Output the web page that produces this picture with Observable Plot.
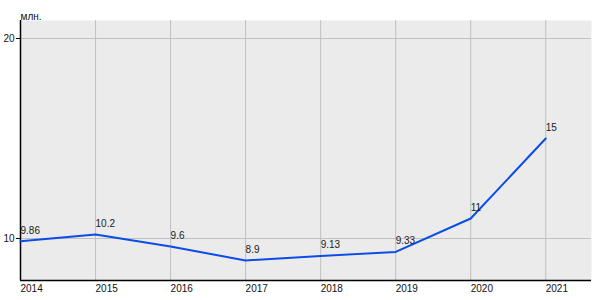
<!DOCTYPE html>
<html>
<head>
<meta charset="utf-8">
<script src="https://cdn.jsdelivr.net/npm/d3@7"></script>
<script src="https://cdn.jsdelivr.net/npm/@observablehq/plot@0.6"></script>
<style>
  html, body { margin: 0; padding: 0; background: #fff; }
  #chart svg { display: block; }
</style>
</head>
<body>
<div id="chart"></div>
<script>
const years = [2014, 2015, 2016, 2017, 2018, 2019, 2020, 2021];
const values = [9.86, 10.2, 9.6, 8.9, 9.13, 9.33, 11, 15];
const yTicks = [10, 20];
const unitLabel = "млн.";

const data = years.map((y, i) => ({year: y, value: values[i]}));
const xDomain = [2014, 2021.61];
const yDomain = [7.9, 20.9];

const chart = Plot.plot({
  width: 600,
  height: 300,
  marginLeft: 20,
  marginRight: 9,
  marginTop: 20,
  marginBottom: 20,
  style: {fontFamily: "'Liberation Sans', Arial, sans-serif", fontSize: "10px", color: "#111", background: "#fff"},
  x: {domain: xDomain, type: "linear"},
  y: {domain: yDomain},
  marks: [
    Plot.frame({fill: "#ebebeb", stroke: null}),
    Plot.gridX(years, {stroke: "#c0c0c0", strokeOpacity: 1}),
    Plot.gridY(yTicks, {stroke: "#c0c0c0", strokeOpacity: 1}),
    Plot.axisX(years, {tickSize: 0, tickPadding: 4, textAnchor: "start", tickFormat: d => String(d), label: null, fill: "#111"}),
    Plot.axisY(yTicks, {tickSize: 4, tickPadding: 2, label: null, stroke: "#000", fill: "#111"}),
    Plot.ruleX([xDomain[0]], {stroke: "#000", strokeWidth: 1.5}),
    Plot.ruleY([yDomain[0]], {stroke: "#000", strokeWidth: 1.5}),
    Plot.line(data, {x: "year", y: "value", stroke: "#0a4de6", strokeWidth: 2, curve: "linear"}),
    Plot.text(data, {x: "year", y: "value", text: d => String(d.value), textAnchor: "start", dy: -11, fill: "#222"}),
    Plot.text([unitLabel], {frameAnchor: "top-left", text: d => d, textAnchor: "start", dy: -8, fill: "#111"})
  ]
});
document.getElementById("chart").appendChild(chart);
</script>
</body>
</html>
